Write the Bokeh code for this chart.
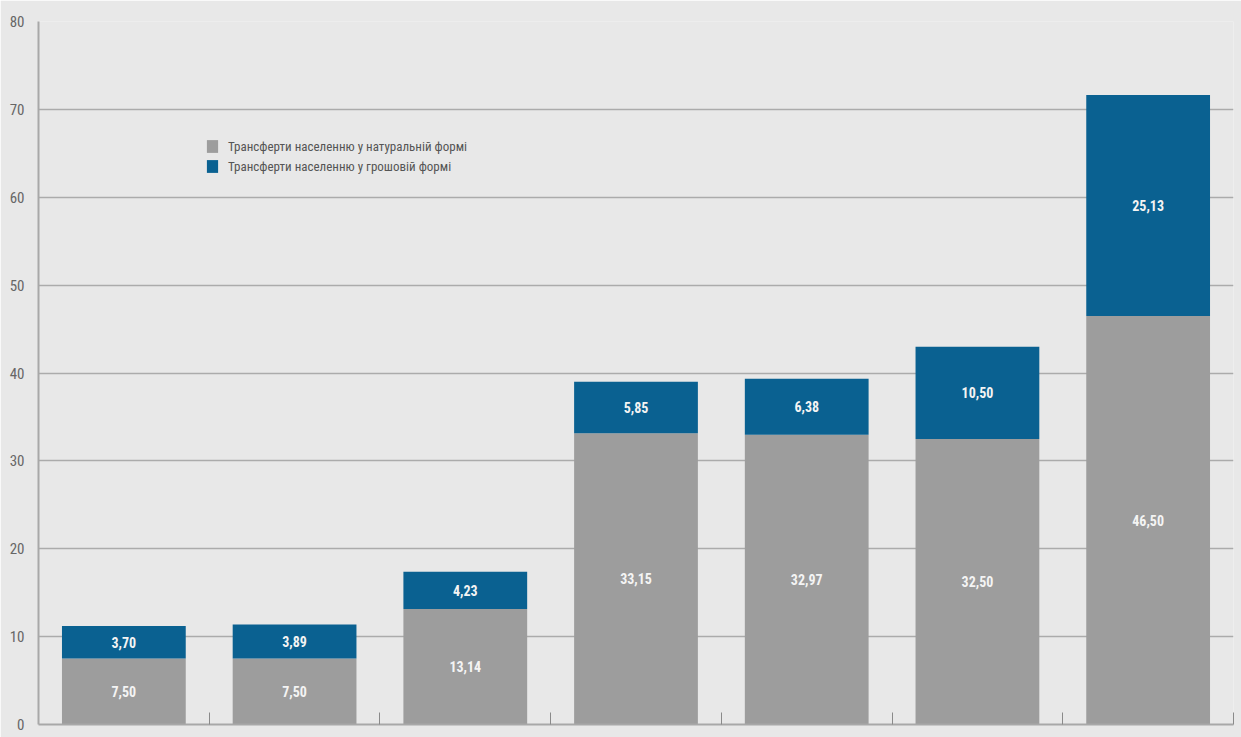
from bokeh.plotting import figure
from bokeh.models import ColumnDataSource, FixedTicker, CustomJSTickFormatter, Legend, LegendItem, LabelSet
from bokeh.core.properties import value
from bokeh.embed import file_html
from bokeh.resources import INLINE

# ---- data ----
positions = [1, 2, 3, 4, 5, 6, 7]
in_kind = [7.50, 7.50, 13.14, 33.15, 32.97, 32.50, 46.50]
in_cash = [3.70, 3.89, 4.23, 5.85, 6.38, 10.50, 25.13]
series_names = ["Трансферти населенню у натуральній формі",
                "Трансферти населенню у грошовій формі"]
y_ticks = [0, 10, 20, 30, 40, 50, 60, 70, 80]

GRAY = "#9d9d9d"
BLUE = "#0a6191"
BG = "#e8e8e8"
FONT = "'Liberation Sans Narrow', 'Roboto Condensed', 'DejaVu Sans Condensed', sans-serif"

def fmt(v):
    return f"{v:.2f}".replace(".", ",")

tops = [a + b for a, b in zip(in_kind, in_cash)]
src = ColumnDataSource(dict(
    x=positions,
    kind=in_kind,
    cash=in_cash,
    top=tops,
    kind_mid=[a / 2 for a in in_kind],
    cash_mid=[a + b / 2 for a, b in zip(in_kind, in_cash)],
    kind_lbl=[fmt(v) for v in in_kind],
    cash_lbl=[fmt(v) for v in in_cash],
))

p = figure(width=1241, height=737, output_backend="svg", toolbar_location=None,
           x_range=(0.5, 7.5), y_range=(0, 80),
           min_border_left=38, min_border_right=8, min_border_top=21, min_border_bottom=13)
p.background_fill_color = BG
p.border_fill_color = BG
p.outline_line_color = None

r1 = p.vbar(x="x", bottom=0, top="kind", width=0.725, source=src, fill_color=GRAY, line_color=None)
r2 = p.vbar(x="x", bottom="kind", top="top", width=0.725, source=src, fill_color=BLUE, line_color=None)

for col_y, col_t in (("kind_mid", "kind_lbl"), ("cash_mid", "cash_lbl")):
    p.add_layout(LabelSet(x="x", y=col_y, text=col_t, source=src,
                          text_align="center", text_baseline="middle",
                          text_color="#f4f4f4", text_font_size="14px",
                          text_font_style="bold", text_font=value(FONT)))

# y axis
p.yaxis.ticker = FixedTicker(ticks=y_ticks)
p.yaxis.axis_line_color = "#a8a8a8"
p.yaxis.axis_line_width = 2
p.yaxis.major_tick_line_color = None
p.yaxis.minor_tick_line_color = None
p.yaxis.major_label_standoff = 8
p.yaxis.major_label_text_font = FONT
p.yaxis.major_label_text_font_size = "15px"
p.yaxis.major_label_text_color = "#666666"

p.ygrid.ticker = FixedTicker(ticks=y_ticks)
p.ygrid.grid_line_color = "#ababab"
p.ygrid.grid_line_width = 1.5
p.xgrid.grid_line_color = None

# x axis: boundaries between groups as inward ticks, no labels
p.xaxis.ticker = FixedTicker(ticks=[1.5, 2.5, 3.5, 4.5, 5.5, 6.5, 7.5])
p.xaxis.formatter = CustomJSTickFormatter(code="return ''")
p.xaxis.axis_line_color = "#a8a8a8"
p.xaxis.axis_line_width = 2
p.xaxis.major_tick_in = 12
p.xaxis.major_tick_out = 0
p.xaxis.major_tick_line_color = "#8a8a8a"
p.xaxis.major_tick_line_width = 1
p.xaxis.minor_tick_line_color = None
p.xaxis.major_label_standoff = 0

legend = Legend(items=[LegendItem(label=series_names[0], renderers=[r1]),
                       LegendItem(label=series_names[1], renderers=[r2])],
                location=(167, 550), orientation="vertical")
legend.background_fill_alpha = 0
legend.border_line_color = None
legend.padding = 0
legend.margin = 0
legend.spacing = 4
legend.glyph_width = 14
legend.glyph_height = 16
legend.label_height = 16
legend.label_standoff = 9
legend.label_text_font = FONT
legend.label_text_font_size = "13px"
legend.label_text_color = "#555555"
p.add_layout(legend, "center")

open("out.html", "w").write(file_html(p, INLINE))
